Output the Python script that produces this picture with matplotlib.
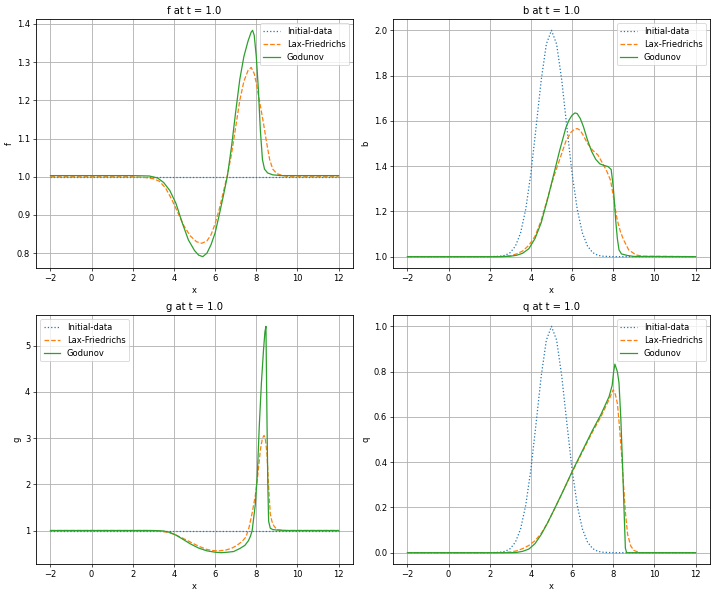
import matplotlib
matplotlib.use("Agg")
import matplotlib.pyplot as plt

# initial gaussian bump (b and q panels)
bump_x = [-2, 2.0, 2.25, 2.5, 2.75, 3.0, 3.25, 3.5, 3.75, 4.0, 4.25, 4.5, 4.75, 5.0,
          5.25, 5.5, 5.75, 6.0, 6.25, 6.5, 6.75, 7.0, 7.25, 7.5, 7.75, 8.0, 12]
bump = [0.0, 0.0, 0.001, 0.002, 0.006, 0.018, 0.047, 0.105, 0.21, 0.368, 0.57, 0.779, 0.939, 1.0,
        0.939, 0.779, 0.57, 0.368, 0.21, 0.105, 0.047, 0.018, 0.006, 0.002, 0.001, 0.0, 0.0]

flat_x = [-2, 12]
flat_one = [1.0, 1.0]

# f
f_lf_x = [-2, 2, 2.6, 3.0, 3.3, 3.6, 3.9, 4.2, 4.5, 4.8, 5.1, 5.35, 5.6, 5.8, 6.0, 6.2, 6.4, 6.6,
          6.8, 7.0, 7.2, 7.4, 7.6, 7.75, 7.9, 8.0, 8.1, 8.2, 8.35, 8.5, 8.65, 8.8, 9.0, 9.3, 9.6, 12]
f_lf = [1.0, 1.0, 0.998, 0.995, 0.988, 0.97, 0.94, 0.905, 0.87, 0.845, 0.83, 0.826, 0.832, 0.848,
        0.877, 0.915, 0.96, 1.005, 1.06, 1.13, 1.2, 1.25, 1.278, 1.286, 1.27, 1.245, 1.215, 1.185,
        1.14, 1.09, 1.045, 1.02, 1.008, 1.003, 1.0, 1.0]
f_god_x = [-2, 2, 2.8, 3.2, 3.5, 3.8, 4.1, 4.4, 4.7, 5.0, 5.2, 5.4, 5.6, 5.8, 6.0, 6.2, 6.4, 6.6,
           6.8, 7.0, 7.2, 7.4, 7.6, 7.75, 7.82, 7.9, 8.0, 8.1, 8.2, 8.3, 8.4, 8.55, 8.8, 9.2, 12]
f_god = [1.003, 1.003, 1.002, 0.997, 0.985, 0.964, 0.93, 0.88, 0.835, 0.807, 0.795, 0.791, 0.8,
         0.822, 0.853, 0.9, 0.95, 1.003, 1.08, 1.17, 1.255, 1.315, 1.355, 1.378, 1.383, 1.37,
         1.315, 1.23, 1.12, 1.045, 1.02, 1.01, 1.005, 1.003, 1.003]

# b
b_init = [1.0 + v for v in bump]
b_lf_x = [-2, 2.5, 3.0, 3.3, 3.6, 3.9, 4.2, 4.5, 4.8, 5.1, 5.4, 5.7, 5.95, 6.1, 6.25, 6.4, 6.55,
          6.75, 7.0, 7.25, 7.5, 7.7, 7.87, 8.0, 8.1, 8.2, 8.35, 8.5, 8.75, 9.1, 9.4, 12]
b_lf = [1.0, 1.0, 1.004, 1.012, 1.025, 1.05, 1.09, 1.16, 1.255, 1.35, 1.43, 1.51, 1.55, 1.562,
        1.566, 1.558, 1.535, 1.5, 1.47, 1.45, 1.41, 1.375, 1.337, 1.27, 1.21, 1.16, 1.11, 1.075,
        1.03, 1.008, 1.002, 1.0]
b_god_x = [-2, 2.5, 3.0, 3.3, 3.6, 3.9, 4.2, 4.5, 4.8, 5.1, 5.4, 5.7, 5.85, 6.0, 6.14, 6.25,
           6.4, 6.55, 6.75, 6.95, 7.15, 7.35, 7.55, 7.75, 7.9, 8.0, 8.05, 8.12, 8.2, 8.28, 8.4,
           8.7, 9.0, 12]
b_god = [1.0, 1.0, 1.002, 1.006, 1.015, 1.035, 1.08, 1.15, 1.25, 1.36, 1.47, 1.57, 1.603, 1.625,
         1.635, 1.632, 1.61, 1.575, 1.515, 1.465, 1.43, 1.41, 1.403, 1.398, 1.385, 1.31, 1.25,
         1.16, 1.08, 1.03, 1.012, 1.005, 1.001, 1.0]

# g
g_lf_x = [-2, 2.8, 3.3, 3.7, 4.0, 4.4, 4.8, 5.2, 5.6, 5.9, 6.2, 6.5, 6.8, 7.05, 7.3, 7.5, 7.65,
          7.8, 7.95, 8.05, 8.2, 8.3, 8.38, 8.45, 8.52, 8.6, 8.68, 8.76, 8.84, 9.0, 9.3, 12]
g_lf = [1.0, 1.0, 0.99, 0.96, 0.92, 0.84, 0.75, 0.66, 0.59, 0.565, 0.56, 0.575, 0.615, 0.675,
        0.76, 0.86, 1.07, 1.38, 1.75, 2.1, 2.75, 3.0, 3.06, 2.95, 2.66, 1.94, 1.36, 1.2, 1.11,
        1.02, 1.0, 1.0]
g_god_x = [-2, 3.0, 3.5, 3.8, 4.1, 4.4, 4.8, 5.2, 5.6, 6.0, 6.3, 6.6, 6.9, 7.2, 7.45, 7.62, 7.72,
           7.8, 7.95, 8.05, 8.15, 8.25, 8.35, 8.42, 8.47, 8.52, 8.56, 8.6, 8.68, 8.8, 9.0, 9.5, 12]
g_god = [1.0, 1.0, 0.99, 0.96, 0.9, 0.82, 0.71, 0.62, 0.56, 0.53, 0.52, 0.53, 0.545, 0.61, 0.68,
         0.78, 0.88, 1.0, 1.55, 2.2, 3.3, 4.2, 4.9, 5.3, 5.42, 3.4, 2.0, 1.2, 1.05, 1.02, 1.01,
         1.0, 1.0]

# q
q_init = bump
q_lf_x = [-2, 2.6, 3.0, 3.3, 3.6, 3.9, 4.2, 4.5, 4.8, 5.1, 5.5, 6.0, 6.5, 7.0, 7.4, 7.8, 8.0,
          8.1, 8.2, 8.3, 8.4, 8.5, 8.6, 8.7, 8.85, 9.0, 9.3, 12]
q_lf = [0.0, 0.0, 0.003, 0.008, 0.018, 0.032, 0.053, 0.085, 0.13, 0.185, 0.26, 0.355, 0.445,
        0.535, 0.6, 0.677, 0.72, 0.70, 0.66, 0.56, 0.44, 0.3, 0.17, 0.08, 0.03, 0.01, 0.0, 0.0]
q_god_x = [-2, 3.0, 3.3, 3.6, 3.9, 4.2, 4.5, 4.8, 5.1, 5.5, 6.0, 6.5, 7.0, 7.4, 7.8, 7.95, 8.02,
           8.08, 8.2, 8.28, 8.37, 8.46, 8.54, 8.59, 8.65, 12]
q_god = [0.0, 0.0, 0.001, 0.006, 0.016, 0.04, 0.08, 0.13, 0.185, 0.26, 0.358, 0.45, 0.542, 0.61,
         0.69, 0.74, 0.80, 0.833, 0.80, 0.75, 0.59, 0.37, 0.15, 0.02, 0.0, 0.0]

panels = [
    ("f", flat_x, flat_one, f_lf_x, f_lf, f_god_x, f_god, "upper right"),
    ("b", bump_x, b_init, b_lf_x, b_lf, b_god_x, b_god, "upper right"),
    ("g", flat_x, flat_one, g_lf_x, g_lf, g_god_x, g_god, "upper left"),
    ("q", bump_x, q_init, q_lf_x, q_lf, q_god_x, q_god, "upper right"),
]

plt.rcParams["grid.linewidth"] = 1.0
plt.rcParams["axes.linewidth"] = 1.0

fig = plt.figure(figsize=(716 / 60, 594 / 60), dpi=60)
plt.subplots_adjust(left=0.0503, right=0.9916, top=0.968, bottom=0.0505, wspace=0.126, hspace=0.189)

for i, (name, xi, yi, xl, yl, xg, yg, loc) in enumerate(panels):
    plt.subplot(2, 2, i + 1)
    plt.plot(xi, yi, ":", color="C0", lw=1.5, label="Initial-data")
    plt.plot(xl, yl, "--", color="C1", lw=1.5, label="Lax-Friedrichs")
    plt.plot(xg, yg, "-", color="C2", lw=1.5, label="Godunov")
    plt.title(name + " at t = 1.0")
    plt.xlabel("x")
    plt.ylabel(name)
    plt.grid(True)
    plt.legend(loc=loc)

plt.savefig("out.png", dpi=60)
